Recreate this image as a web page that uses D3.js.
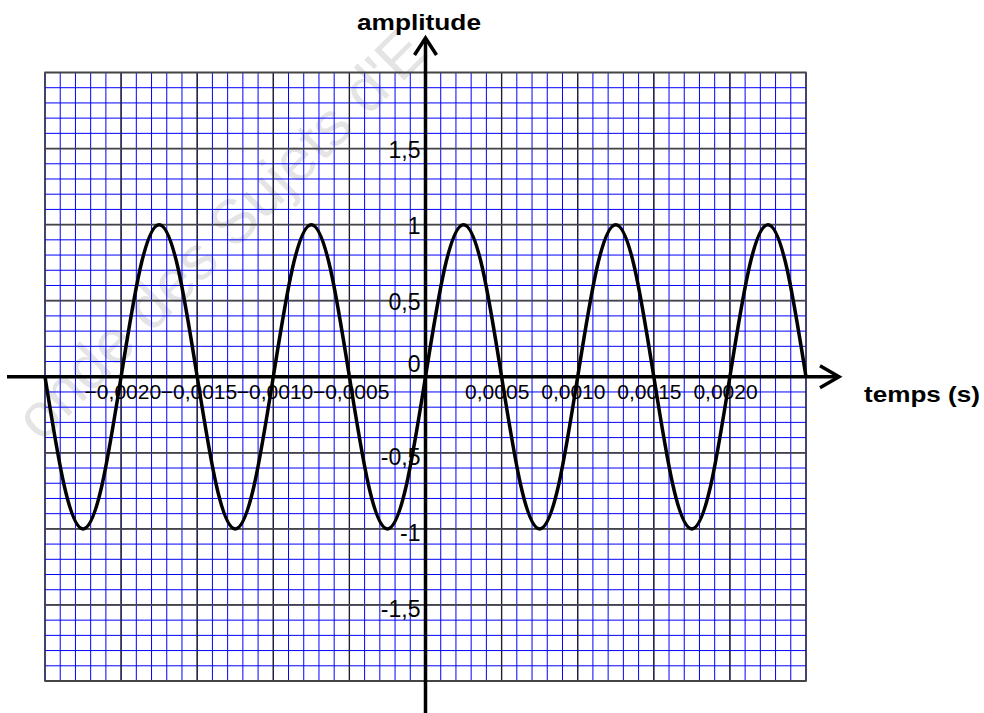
<!DOCTYPE html>
<html>
<head>
<meta charset="utf-8">
<script src="https://cdn.jsdelivr.net/npm/d3@7"></script>
<style>
  html, body { margin: 0; padding: 0; background: #fff; }
  svg { display: block; }
</style>
</head>
<body>
<svg id="chart" width="984" height="713"></svg>
<script>
// ---- data ----
const times = [
  -0.0025, -0.002375, -0.00225, -0.002125, -0.002, -0.001875, -0.00175, -0.001625,
  -0.0015, -0.001375, -0.00125, -0.001125, -0.001, -0.000875, -0.00075, -0.000625,
  -0.0005, -0.000375, -0.00025, -0.000125, 0, 0.000125, 0.00025, 0.000375,
  0.0005, 0.000625, 0.00075, 0.000875, 0.001, 0.001125, 0.00125, 0.001375,
  0.0015, 0.001625, 0.00175, 0.001875, 0.002, 0.002125, 0.00225, 0.002375, 0.0025
];
const amplitude = [
  0, -0.71, -1, -0.71, 0, 0.71, 1, 0.71,
  0, -0.71, -1, -0.71, 0, 0.71, 1, 0.71,
  0, -0.71, -1, -0.71, 0, 0.71, 1, 0.71,
  0, -0.71, -1, -0.71, 0, 0.71, 1, 0.71,
  0, -0.71, -1, -0.71, 0, 0.71, 1, 0.71,
  0
];
const xTickValues = [-0.002, -0.0015, -0.001, -0.0005, 0.0005, 0.001, 0.0015, 0.002];
const xTickLabels = ["\u22120,0020", "\u22120,0015", "\u22120,0010", "\u22120,0005", "0,0005", "0,0010", "0,0015", "0,0020"];
const yTickValues = [1.5, 1, 0.5, 0, -0.5, -1, -1.5];
const yTickLabels = ["1,5", "1", "0,5", "0", "-0,5", "-1", "-1,5"];
const xTitle = "temps (s)";
const yTitle = "amplitude";
const watermark = "onde des Sujets d'E";

// ---- layout ----
const svg = d3.select("#chart");
const x = d3.scaleLinear().domain([-0.0025, 0.0025]).range([45, 806]);
const y = d3.scaleLinear().domain([-2, 2]).range([681, 72.5]);
const x0 = x(0), y0 = y(0);

// watermark (faint, behind grid lines)
svg.append("text").text(watermark)
  .attr("transform", "translate(26,428) rotate(-45)")
  .attr("font-family", "Liberation Sans, Arial, sans-serif")
  .attr("font-size", 62).attr("dy", "0.35em")
  .attr("fill", "#e4e4e4");

// minor grid
const gMinor = svg.append("g");
gMinor.selectAll("line.vx").data(x.ticks(50)).join("line")
  .attr("x1", d => x(d)).attr("x2", d => x(d))
  .attr("y1", y(2)).attr("y2", y(-2))
  .attr("stroke", "#0000ff").attr("stroke-width", 1);
gMinor.selectAll("line.hy").data(y.ticks(40)).join("line")
  .attr("y1", d => y(d)).attr("y2", d => y(d))
  .attr("x1", x(-0.0025)).attr("x2", x(0.0025))
  .attr("stroke", "#0000ff").attr("stroke-width", 1);

// major grid
const gMajor = svg.append("g");
gMajor.selectAll("line.vx").data(x.ticks(10)).join("line")
  .attr("x1", d => x(d)).attr("x2", d => x(d))
  .attr("y1", y(2)).attr("y2", y(-2))
  .attr("stroke", "#222").attr("stroke-width", 1.3);
gMajor.selectAll("line.hy").data(y.ticks(8)).join("line")
  .attr("y1", d => y(d)).attr("y2", d => y(d))
  .attr("x1", x(-0.0025) - 0.6).attr("x2", x(0.0025) + 0.6)
  .attr("stroke", "#444").attr("stroke-width", 1.8);

// x tick labels
const xAxis = d3.axisBottom(x).tickValues(xTickValues).tickSize(0)
  .tickFormat((d, i) => xTickLabels[i]);
const gx = svg.append("g").attr("transform", `translate(0,${y0})`).call(xAxis);
gx.select(".domain").remove();
gx.selectAll(".tick text")
  .attr("font-family", "Liberation Sans, Arial, sans-serif")
  .attr("font-size", 21).attr("fill", "#000")
  .attr("text-anchor", "start")
  .attr("x", -37).attr("y", 22).attr("dy", 0);

// y tick labels
const yAxis = d3.axisLeft(y).tickValues(yTickValues).tickSize(0)
  .tickFormat((d, i) => yTickLabels[i]);
const gy = svg.append("g").attr("transform", `translate(${x0},0)`).call(yAxis);
gy.select(".domain").remove();
gy.selectAll(".tick text")
  .attr("font-family", "Liberation Sans, Arial, sans-serif")
  .attr("font-size", 23).attr("fill", "#000")
  .attr("text-anchor", "end")
  .attr("x", -5).attr("dy", 0)
  .attr("y", d => d > 0 ? 8.5 : (d === 0 ? -5 : 11.5));

// curve
const line = d3.line().x((d, i) => x(times[i])).y(d => y(d)).curve(d3.curveNatural);
svg.append("path").datum(amplitude).attr("d", line)
  .attr("fill", "none").attr("stroke", "#000").attr("stroke-width", 3.5)
  .attr("stroke-linejoin", "round");

// axes lines with arrows
const gAx = svg.append("g").attr("stroke", "#000").attr("fill", "none")
  .attr("stroke-width", 3.5).attr("stroke-linecap", "butt");
gAx.append("line").attr("x1", 7).attr("x2", 839).attr("y1", y0).attr("y2", y0);
gAx.append("path").attr("d", `M${820},${y0 - 11}L${839},${y0}L${820},${y0 + 11}`)
  .attr("stroke-linejoin", "miter");
gAx.append("line").attr("x1", x0).attr("x2", x0).attr("y1", 713).attr("y2", 38);
gAx.append("path").attr("d", `M${x0 - 11},${55}L${x0},${38}L${x0 + 11},${55}`)
  .attr("stroke-linejoin", "miter");

// titles
svg.append("text").text(yTitle)
  .attr("x", 357).attr("y", 30)
  .attr("font-family", "Liberation Sans, Arial, sans-serif")
  .attr("font-weight", "bold").attr("font-size", 22)
  .attr("textLength", 124).attr("lengthAdjust", "spacingAndGlyphs");
svg.append("text").text(xTitle)
  .attr("x", 864).attr("y", 402)
  .attr("font-family", "Liberation Sans, Arial, sans-serif")
  .attr("font-weight", "bold").attr("font-size", 22)
  .attr("textLength", 116).attr("lengthAdjust", "spacingAndGlyphs");
</script>
</body>
</html>
